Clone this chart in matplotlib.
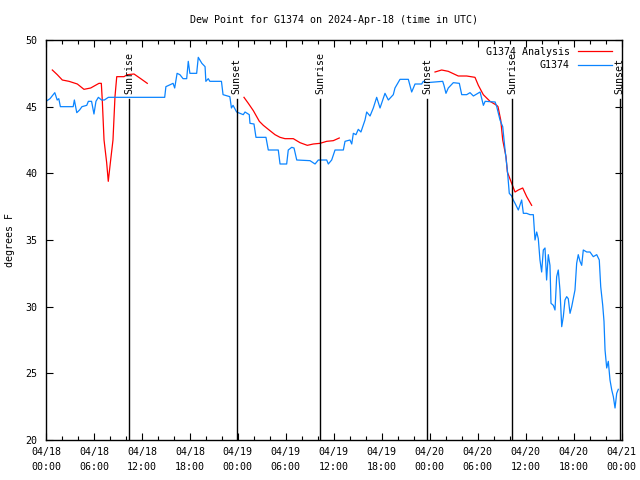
import numpy as np
import matplotlib
matplotlib.use("Agg")
import matplotlib.pyplot as plt

# hours since 2024-04-18 00:00 UTC
obs_hours = [0.0, 0.5, 1.1, 1.4, 1.6, 1.8, 3.4, 3.55, 3.85, 4.2, 4.5, 5.1, 5.3, 5.7, 6.0, 6.25,
             6.55, 6.95, 7.3, 7.8, 14.85, 15.0, 15.9, 16.1, 16.4, 16.75, 17.15, 17.6, 17.8, 18.0,
             18.85, 19.05, 19.5, 19.9, 20.0, 20.3, 20.5, 21.95, 22.15, 23.0, 23.2, 23.4, 23.85,
             24.26, 24.68, 24.9, 25.43, 25.52, 26.02, 26.27, 27.52, 27.81, 29.06, 29.28, 30.11,
             30.31, 30.74, 31.03, 31.37, 33.03, 33.66, 34.07, 35.12, 35.32, 35.74, 36.16, 37.2,
             37.41, 38.03, 38.25, 38.45, 38.78, 39.07, 39.4, 39.91, 40.12, 40.54, 40.95, 41.37,
             41.79, 42.41, 42.83, 43.45, 43.66, 44.29, 45.33, 45.75, 46.17, 47.0, 47.2, 47.63,
             49.63, 49.79, 50.04, 50.33, 50.96, 51.71, 52.01, 52.63, 53.05, 53.47, 54.31, 54.72,
             54.94, 56.19, 56.39, 56.8, 57.14, 57.43, 57.72, 57.96, 58.26, 58.46, 58.68, 59.09,
             59.51, 59.72, 60.14, 60.55, 60.97, 61.18, 61.39, 61.59, 61.8, 62.01, 62.22, 62.43,
             62.63, 62.84, 63.05, 63.18, 63.47, 63.68, 63.89, 64.09, 64.3, 64.52, 64.72, 64.93,
             65.14, 65.34, 65.56, 65.77, 66.18, 66.39, 66.59, 66.81, 67.02, 67.22, 67.65, 68.06,
             68.47, 68.9, 69.22, 69.4, 69.65, 69.81, 69.94, 70.15, 70.35, 70.56, 70.78, 70.98,
             71.19, 71.4, 71.6]
obs_dewpt = [45.4, 45.6, 46.05, 45.5, 45.6, 45.0, 45.0, 45.5, 44.55, 44.75, 45.0, 45.1, 45.4, 45.4,
             44.45, 45.4, 45.7, 45.5, 45.5, 45.7, 45.7, 46.5, 46.75, 46.4, 47.5, 47.4, 47.1, 47.1,
             48.4, 47.5, 47.5, 48.7, 48.25, 48.0, 46.9, 47.1, 46.9, 46.9, 45.9, 45.75, 44.9, 45.1,
             44.6, 44.5, 44.4, 44.6, 44.4, 43.75, 43.7, 42.7, 42.7, 41.75, 41.75, 40.7, 40.7,
             41.75, 41.95, 41.9, 41.0, 40.95, 40.7, 41.0, 41.0, 40.7, 41.0, 41.75, 41.75, 42.4,
             42.5, 42.2, 43.0, 42.9, 43.3, 43.1, 44.0, 44.6, 44.3, 44.9, 45.7, 44.9, 46.0, 45.5,
             45.9, 46.4, 47.05, 47.05, 46.1, 46.7, 46.7, 46.9, 46.8, 46.9, 46.6, 46.0, 46.4, 46.8,
             46.75, 45.9, 45.9, 46.05, 45.8, 46.1, 45.1, 45.4, 45.35, 45.0, 44.0, 43.5, 41.75,
             40.25, 38.5, 38.3, 38.0, 37.75, 37.25, 38.0, 37.0, 37.0, 36.9, 36.9, 35.0, 35.6, 35.1,
             33.5, 32.6, 34.25, 34.4, 32.0, 33.9, 33.1, 30.25, 30.1, 29.75, 32.25, 32.75, 31.25,
             28.5, 29.25, 30.5, 30.75, 30.6, 29.5, 30.0, 31.25, 33.25, 33.9, 33.4, 33.1, 34.25,
             34.1, 34.1, 33.75, 33.9, 33.5, 31.5, 30.1, 28.9, 26.75, 25.4, 25.9, 24.5, 23.75,
             23.25, 22.4, 23.5, 23.8]

# analysis runs, NaN splits the three 12 h pieces
ana_hours = [0.79, 1.41, 2.04, 2.88, 3.92, 4.75, 5.59, 6.63, 6.92, 7.04, 7.26, 7.59, 7.79, 8.09,
             8.38, 8.63, 8.85, 9.76, 10.17, 11.01, 11.85, 12.67, 13.0,
             24.77, 25.31, 25.94, 26.69, 27.19, 27.81, 28.65, 29.28, 29.9, 30.94, 31.78, 32.69,
             33.44, 34.28, 35.12, 35.94, 36.69, 37.0,
             48.67, 49.5, 50.33, 51.58, 52.63, 53.67, 54.09, 54.71, 55.55, 56.39, 56.55, 56.89,
             57.14, 57.55, 57.72, 58.26, 58.68, 59.09, 59.64, 60.14, 60.76]
ana_dewpt = [47.75, 47.4, 47.0, 46.9, 46.7, 46.3, 46.4, 46.75, 46.75, 45.5, 42.5, 40.8, 39.4, 41.0,
             42.5, 45.75, 47.25, 47.25, 47.4, 47.45, 47.1, 46.75, np.nan,
             45.7, 45.25, 44.7, 43.9, 43.6, 43.3, 42.9, 42.7, 42.6, 42.6, 42.3, 42.1, 42.2, 42.25,
             42.4, 42.45, 42.65, np.nan,
             47.6, 47.75, 47.65, 47.3, 47.3, 47.2, 46.6, 45.9, 45.4, 45.1, 45.0, 44.0, 42.5, 41.25,
             40.1, 39.25, 38.6, 38.75, 38.9, 38.25, 37.6]

sun_hours = [10.43, 23.87, 34.3, 47.7, 58.36, 71.75]
sun_labels = ["Sunrise", "Sunset", "Sunrise", "Sunset", "Sunrise", "Sunset"]

tick_hours = list(range(0, 73, 6))
tick_labels = ["04/18\n00:00", "04/18\n06:00", "04/18\n12:00", "04/18\n18:00",
               "04/19\n00:00", "04/19\n06:00", "04/19\n12:00", "04/19\n18:00",
               "04/20\n00:00", "04/20\n06:00", "04/20\n12:00", "04/20\n18:00",
               "04/21\n00:00"]

plt.rcParams['font.family'] = ['DejaVu Sans Mono']
plt.rcParams['font.size'] = 7.2

fig = plt.figure(figsize=(6.4, 4.8), dpi=100)
ax = fig.add_axes([46 / 640, 40 / 480, 575.5 / 640, 400 / 480])

ax.plot(ana_hours, ana_dewpt, color="#ff0000", lw=0.9, label="G1374 Analysis")
ax.plot(obs_hours, obs_dewpt, color="#0a84ff", lw=0.9, label="G1374")

for h, lab in zip(sun_hours, sun_labels):
    ax.plot([h, h], [20, 45.55], color="black", lw=1.0)
    ax.annotate(lab, xy=(h, 45.55), xytext=(0, 4), textcoords="offset points",
                rotation=90, ha="center", va="bottom")

ax.set_xlim(0, 72)
ax.set_ylim(20, 50)
ax.set_xticks(tick_hours)
ax.set_xticklabels(tick_labels, linespacing=1.6)
ax.set_xticks(np.arange(0, 73, 2), minor=True)
ax.set_yticks([20, 25, 30, 35, 40, 45, 50])
ax.tick_params(which="major", direction="in", length=5, width=0.8, top=True, right=True, pad=6)
ax.tick_params(which="minor", direction="in", length=3, width=0.8, top=True)
ax.tick_params(axis="x", which="major", pad=5)
for s in ax.spines.values():
    s.set_linewidth(1.0)

# y label and title placed like the gnuplot page
fig.text(10 / 640, 0.5, "degrees F", rotation=90, ha="center", va="center")
fig.text((46 + 621.5) / 2 / 640, 1 - 20 / 480, "Dew Point for G1374 on 2024-Apr-18 (time in UTC)",
         ha="center", va="center")

leg = ax.legend(loc="upper right", frameon=False, markerfirst=False, handlelength=3.4,
                borderaxespad=0.3, labelspacing=0.35, handletextpad=0.8,
                bbox_to_anchor=(0.995, 1.0))

fig.savefig("out.png", dpi=100)
